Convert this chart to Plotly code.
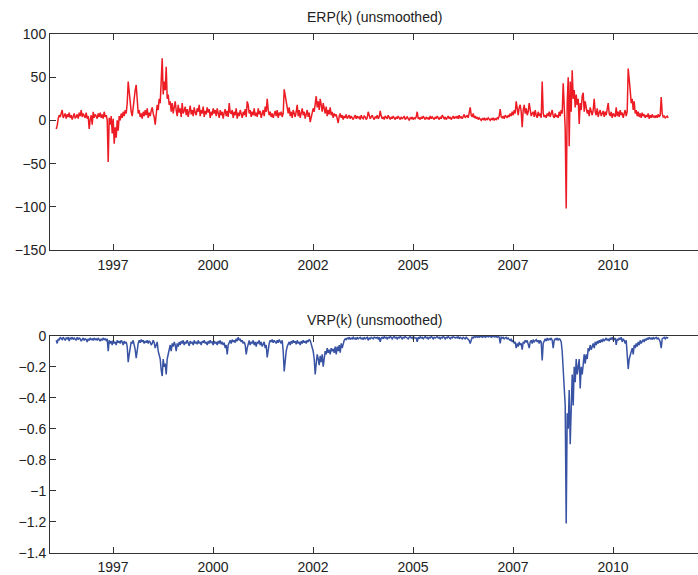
import numpy as np
import plotly.graph_objects as go

# time grid (fractional years), one sample every 0.025 year
start_year = 1996.08
step_year = 0.025

erp = [
    -10, -6, 2, 6, 4, 10, 12, 3, 5, 8,
    2, 7, 4, 9, 3, 6, 1, 5, 8, 3,
    4, 7, 2, 9, 5, 12, 4, 8, 6, 3,
    9, 2, 5, -10, 1, 6, -5, 10, 3, 7,
    5, 2, 8, 4, 9, 3, 7, 2, 10, 4,
    6, 1, -48, 3, -5, 5, -15, 2, -27, -8,
    -20, 0, -12, 5, 0, 8, 3, 10, 5, 12,
    8, 20, 45, 30, 15, 10, 5, 18, 25, 35,
    41, 15, 8, 12, 4, 8, 2, 10, 5, 12,
    6, 14, 3, 9, 5, 11, 15, 8, 4, -5,
    10, 18, 12, 25, 20, 40, 72, 30, 45, 35,
    62, 25, 30, 18, 22, 10, 20, 8, 15, 22,
    12, 5, 18, 9, 14, 4, 20, 8, 11, 16,
    6, 13, 4, 10, 17, 7, 12, 5, 15, 9,
    6, 14, 10, 18, 5, 12, 8, 16, 4, 11,
    7, 15, 9, 13, 3, 10, 6, 14, 8, 12,
    5, 14, 8, 3, 12, 6, 10, 2, 9, 13,
    5, 11, 4, 20, 9, 8, 12, 3, 10, 6,
    14, 2, 9, 5, 12, 7, 3, 10, 6, 13,
    4, 22, 18, 8, 12, 4, 10, 6, 14, 5,
    9, 4, 14, 7, 11, 3, 8, 12, 5, 16,
    10, 25, 12, 6, 10, 4, 8, 3, 7, 11,
    5, 12, 3, 9, 6, 10, 4, 8, 36, 28,
    22, 12, 8, 15, 5, 10, 3, 12, 7, 4,
    10, 18, 5, 12, 3, 8, 14, 6, 10, 2,
    7, 12, 4, 9, -2, 5, 8, 14, 10, 20,
    28, 15, 22, 12, 25, 18, 10, 20, 14, 8,
    16, 5, 12, 7, 15, 6, 10, 3, 8, 5,
    7, 2, -3, 5, 8, 3, 6, 1, 5, 3,
    7, 2, 4, 6, 2, 5, 3, 1, 4, 6,
    2, 5, 3, 4, 1, 6, 3, 2, 5, 4,
    1, 3, 10, 5, 2, 4, 6, 3, 1, 4,
    3, 6, 2, 4, 11, 5, 2, 4, 1, 5,
    3, 2, 6, 3, 1, 4, 2, 5, 3, 1,
    4, 2, 5, 3, 1, 4, 2, 3, 5, 1,
    3, 4, 2, 0, 3, 2, 4, 1, 3, 2,
    4, 10, 2, 3, 1, 4, 2, 5, 3, 1,
    4, 2, 3, 1, 5, 2, 4, 3, 1, 4,
    2, 5, 3, 1, 4, 2, 6, 3, 2, 4,
    1, 3, 5, 2, 4, 1, 3, 5, 2, 4,
    3, 5, 2, 6, 3, 4, 2, 5, 7, 3,
    4, 6, 3, 8, 15, 6, 4, 8, 3, 5,
    2, 4, 1, 3, 2, 0, 2, 1, 3, 0,
    2, 1, 3, 2, 0, 2, 1, 3, 0, 2,
    1, 3, 2, 5, 13, 4, 3, 5, 2, 6,
    4, 3, 6, 4, 8, 5, 10, 6, 12, 8,
    22, 12, 6, 15, 18, 10, -8, 12, 18, 8,
    14, 6, 10, 20, 12, 5, 8, 10, 4, 12,
    6, 3, 10, 5, 8, 3, 45, 8, 4, 6,
    3, 8, 5, 10, 4, 7, 12, 5, 3, 8,
    4, 6, 3, 10, 5, 12, 8, 43, 20, -10,
    -102, 20, 50, -30, 45, 10, 58, 25, 35, 15,
    30, 18, 25, -4, 20, 12, 28, 32, 10, 22,
    15, 8, 12, 5, 15, 8, 6, 12, 25, 10,
    6, 14, 4, 9, 12, 5, 8, 11, 4, 10,
    6, 13, 20, 8, 5, 10, 3, 8, 6, 4,
    15, 5, 10, 4, 12, 6, 9, 3, 8, 12,
    5, 10, 60, 40, 35, 20, 25, 12, 22, 8,
    12, 5, 10, 4, 8, 3, 9, 5, 7, 3,
    6, 4, 8, 2, 6, 3, 7, 4, 5, 3,
    6, 3, 7, 4, 6, 27, 8, 4, 5, 3, 4, 5, 3,
]

vrp = [
    -0.03, -0.05, -0.02, -0.03, -0.01, -0.015, -0.025, -0.01, -0.02, -0.03,
    -0.015, -0.02, -0.01, -0.035, -0.015, -0.02, -0.01, -0.025, -0.015, -0.02,
    -0.03, -0.01, -0.025, -0.015, -0.02, -0.035, -0.02, -0.015, -0.03, -0.02,
    -0.025, -0.04, -0.02, -0.03, -0.015, -0.025, -0.02, -0.03, -0.015, -0.025,
    -0.02, -0.03, -0.015, -0.025, -0.035, -0.02, -0.03, -0.015, -0.025, -0.02,
    -0.03, -0.02, -0.10, -0.03, -0.05, -0.035, -0.06, -0.03, -0.05, -0.04,
    -0.06, -0.03, -0.045, -0.035, -0.05, -0.03, -0.04, -0.06, -0.035, -0.05,
    -0.04, -0.07, -0.17, -0.12, -0.06, -0.04, -0.05, -0.03, -0.06, -0.09,
    -0.145, -0.07, -0.05, -0.03, -0.045, -0.025, -0.04, -0.03, -0.05, -0.035,
    -0.045, -0.03, -0.05, -0.035, -0.04, -0.06, -0.05, -0.03, -0.045, -0.08,
    -0.06, -0.04, -0.10, -0.12, -0.15, -0.22, -0.26, -0.15, -0.20, -0.18,
    -0.25, -0.15, -0.12, -0.08, -0.06, -0.10, -0.05, -0.07, -0.04, -0.06,
    -0.10, -0.05, -0.07, -0.04, -0.06, -0.035, -0.05, -0.03, -0.06, -0.04,
    -0.05, -0.03, -0.045, -0.065, -0.035, -0.05, -0.04, -0.06, -0.03, -0.05,
    -0.04, -0.055, -0.03, -0.05, -0.04, -0.06, -0.035, -0.045, -0.03, -0.05,
    -0.04, -0.06, -0.035, -0.05, -0.03, -0.045, -0.04, -0.06, -0.035, -0.05,
    -0.04, -0.06, -0.035, -0.05, -0.03, -0.055, -0.04, -0.06, -0.045, -0.08,
    -0.06, -0.12, -0.06, -0.04, -0.03, -0.05, -0.025, -0.04, -0.03, -0.045,
    -0.02, -0.035, -0.01, -0.03, -0.02, -0.04, -0.03, -0.05, -0.04, -0.06,
    -0.12, -0.08, -0.05, -0.03, -0.06, -0.04, -0.05, -0.03, -0.06, -0.04,
    -0.07, -0.04, -0.05, -0.03, -0.06, -0.04, -0.07, -0.05, -0.04, -0.08,
    -0.06, -0.14, -0.08, -0.05, -0.03, -0.04, -0.025, -0.045, -0.03, -0.04,
    -0.05, -0.03, -0.045, -0.025, -0.04, -0.05, -0.03, -0.10, -0.23, -0.15,
    -0.10, -0.07, -0.05, -0.04, -0.06, -0.035, -0.05, -0.03, -0.045, -0.035,
    -0.055, -0.03, -0.05, -0.04, -0.06, -0.035, -0.05, -0.03, -0.045, -0.035,
    -0.05, -0.03, -0.04, -0.025, -0.03, -0.05, -0.08, -0.10, -0.15, -0.25,
    -0.18, -0.12, -0.15, -0.19, -0.13, -0.17, -0.12, -0.20, -0.15, -0.10,
    -0.12, -0.08, -0.11, -0.09, -0.12, -0.08, -0.10, -0.085, -0.11, -0.07,
    -0.12, -0.07, -0.10, -0.06, -0.11, -0.05, -0.08, -0.04, -0.03, -0.02,
    -0.025, -0.015, -0.02, -0.01, -0.025, -0.015, -0.02, -0.01, -0.02, -0.015,
    -0.025, -0.01, -0.02, -0.015, -0.01, -0.02, -0.015, -0.025, -0.01, -0.02,
    -0.015, -0.01, -0.03, -0.015, -0.02, -0.01, -0.015, -0.02, -0.01, -0.015,
    -0.015, -0.01, -0.02, -0.01, -0.04, -0.015, -0.01, -0.02, -0.005, -0.015,
    -0.01, -0.02, -0.01, -0.015, -0.005, -0.01, -0.02, -0.01, -0.005, -0.015,
    -0.01, -0.02, -0.01, -0.015, -0.005, -0.01, -0.02, -0.01, -0.015, -0.005,
    -0.01, -0.015, -0.02, -0.01, -0.005, -0.015, -0.01, -0.02, -0.01, -0.015,
    -0.015, -0.04, -0.01, -0.02, -0.005, -0.015, -0.01, -0.02, -0.01, -0.005,
    -0.015, -0.01, -0.02, -0.01, -0.015, -0.005, -0.01, -0.02, -0.01, -0.015,
    -0.01, -0.005, -0.015, -0.01, -0.02, -0.01, -0.015, -0.005, -0.01, -0.02,
    -0.01, -0.015, -0.005, -0.01, -0.02, -0.01, -0.015, -0.005, -0.01, -0.015,
    -0.01, -0.015, -0.005, -0.02, -0.01, -0.015, -0.02, -0.01, -0.015, -0.02,
    -0.01, -0.015, -0.02, -0.03, -0.05, -0.02, -0.01, -0.015, -0.005, -0.01,
    -0.005, -0.01, -0.005, -0.01, -0.005, -0.002, -0.01, -0.005, -0.002, -0.01,
    -0.005, -0.002, -0.008, -0.005, -0.002, -0.01, -0.005, -0.002, -0.008, -0.005,
    -0.005, -0.01, -0.005, -0.01, -0.05, -0.01, -0.015, -0.01, -0.02, -0.015,
    -0.01, -0.02, -0.015, -0.025, -0.03, -0.02, -0.04, -0.03, -0.05, -0.04,
    -0.08, -0.05, -0.07, -0.04, -0.06, -0.05, -0.09, -0.04, -0.05, -0.03,
    -0.04, -0.03, -0.05, -0.08, -0.04, -0.03, -0.05, -0.025, -0.04, -0.03,
    -0.025, -0.04, -0.03, -0.05, -0.03, -0.04, -0.16, -0.05, -0.03, -0.02,
    -0.035, -0.015, -0.03, -0.02, -0.025, -0.015, -0.03, -0.08, -0.03, -0.02,
    -0.025, -0.015, -0.03, -0.02, -0.025, -0.04, -0.10, -0.25, -0.30, -0.45,
    -1.21, -0.50, -0.60, -0.35, -0.70, -0.40, -0.25, -0.45, -0.20, -0.30,
    -0.15, -0.25, -0.18, -0.15, -0.34, -0.20, -0.25, -0.15, -0.12, -0.18,
    -0.12, -0.15, -0.08, -0.10, -0.06, -0.09, -0.07, -0.05, -0.08, -0.04,
    -0.06, -0.035, -0.05, -0.03, -0.045, -0.025, -0.04, -0.02, -0.035, -0.025,
    -0.015, -0.03, -0.02, -0.035, -0.015, -0.025, -0.01, -0.03, -0.02, -0.015,
    -0.06, -0.02, -0.03, -0.015, -0.025, -0.01, -0.04, -0.02, -0.03, -0.05,
    -0.03, -0.10, -0.215, -0.15, -0.12, -0.10, -0.08, -0.12, -0.06, -0.08,
    -0.05, -0.07, -0.04, -0.06, -0.03, -0.05, -0.035, -0.025, -0.04, -0.02,
    -0.03, -0.015, -0.025, -0.01, -0.02, -0.015, -0.025, -0.01, -0.02, -0.015,
    -0.01, -0.02, -0.015, -0.025, -0.04, -0.08, -0.02, -0.015, -0.01, -0.02,
    -0.01, -0.015, -0.01,
]

x_tickvals = [1997.5, 2000.0, 2002.5, 2005.0, 2007.5, 2010.0]
x_ticktext = ["1997", "2000", "2002", "2005", "2007", "2010"]
erp_tickvals = [100, 50, 0, -50, -100, -150]
erp_ticktext = ["100", "50", "0", "\u221250", "\u2212100", "\u2212150"]
vrp_tickvals = [0, -0.2, -0.4, -0.6, -0.8, -1.0, -1.2, -1.4]
vrp_ticktext = ["0", "\u22120.2", "\u22120.4", "\u22120.6", "\u22120.8", "\u22121", "\u22121.2", "\u22121.4"]

t_erp = start_year + step_year * np.arange(len(erp))
t_vrp = start_year + step_year * np.arange(len(vrp))

FONT = "Liberation Sans, Arial, Helvetica, sans-serif"
AXC = "#333333"
xr = [1995.925, 2012.125]

fig = go.Figure()
fig.add_trace(go.Scatter(x=t_erp, y=erp, mode="lines", line=dict(color="#ED1C24", width=1.5),
                         xaxis="x", yaxis="y", showlegend=False))
fig.add_trace(go.Scatter(x=t_vrp, y=vrp, mode="lines", line=dict(color="#3953A4", width=1.5),
                         xaxis="x2", yaxis="y2", showlegend=False))

common_x = dict(range=xr, tickmode="array", tickvals=x_tickvals, ticks="inside", ticklen=6,
                tickwidth=1, tickcolor=AXC, showline=True, linecolor=AXC, linewidth=1,
                showgrid=False, zeroline=False, automargin=False)
top_x = dict(common_x, showticklabels=False, side="top")

top_dom = [0.5838, 1.0]
bot_dom = [0.0, 0.4187]

fig.update_layout(
    width=698, height=575,
    margin=dict(l=50, r=0, t=34, b=22),
    paper_bgcolor="white", plot_bgcolor="white",
    font=dict(family=FONT, size=14, color="#222222"),
    xaxis=dict(common_x, anchor="y", ticktext=x_ticktext, domain=[0, 1], ticklabelstandoff=2),
    yaxis=dict(domain=top_dom, anchor="x", range=[-150, 100], tickmode="array",
               tickvals=erp_tickvals, ticktext=erp_ticktext, ticks="inside", ticklen=6,
               tickcolor=AXC, showline=True, linecolor=AXC, linewidth=1,
               showgrid=False, zeroline=False, automargin=False),
    xaxis2=dict(common_x, anchor="y2", ticktext=x_ticktext, domain=[0, 1], ticklabelstandoff=1),
    yaxis2=dict(domain=bot_dom, anchor="x2", range=[-1.4, 0], tickmode="array",
                tickvals=vrp_tickvals, ticktext=vrp_ticktext, ticks="inside", ticklen=6,
                tickcolor=AXC, showline=True, linecolor=AXC, linewidth=1,
                showgrid=False, zeroline=False, automargin=False),
    xaxis3=dict(top_x, overlaying="x", anchor="y", matches="x"),
    xaxis4=dict(top_x, overlaying="x2", anchor="y2", matches="x2"),
    annotations=[
        dict(text="ERP(k) (unsmoothed)", x=0.5, y=1.0328, xref="paper", yref="paper",
             showarrow=False, xanchor="center", yanchor="middle", font=dict(size=14)),
        dict(text="VRP(k) (unsmoothed)", x=0.5, y=0.449, xref="paper", yref="paper",
             showarrow=False, xanchor="center", yanchor="middle", font=dict(size=14)),
    ],
)
# invisible traces so the top-side mirror axes are drawn
fig.add_trace(go.Scatter(x=[xr[0]], y=[0], xaxis="x3", yaxis="y", mode="markers",
                         marker=dict(opacity=0), showlegend=False, hoverinfo="skip"))
fig.add_trace(go.Scatter(x=[xr[0]], y=[0], xaxis="x4", yaxis="y2", mode="markers",
                         marker=dict(opacity=0), showlegend=False, hoverinfo="skip"))

fig.write_html("out.html", config={"displayModeBar": False},
               post_script="document.body.style.margin='0';document.body.style.overflow='hidden';")
